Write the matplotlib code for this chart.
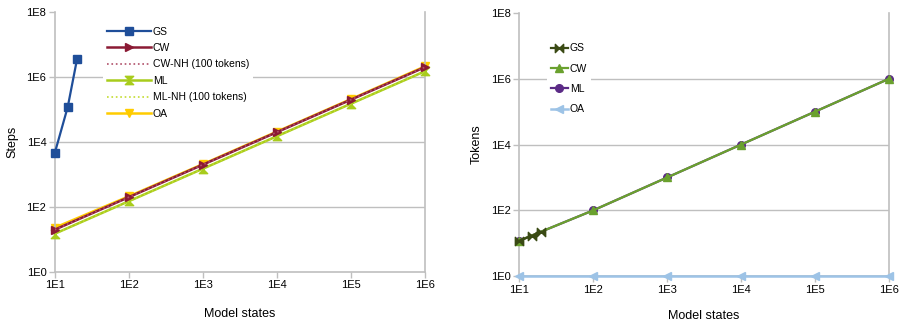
import matplotlib.pyplot as plt
from matplotlib.path import Path
import numpy as np

plt.rcParams['font.family'] = ['Liberation Sans', 'DejaVu Sans']

# left chart: steps
states = [10, 100, 1000, 10000, 100000, 1000000]
gs_states = [10, 15, 20]
gs_steps = [4500, 120000, 3500000]
cw_steps = [20, 200, 2000, 20000, 200000, 2000000]
cw_nh_steps = [20, 200, 2000, 20000, 200000, 2000000]
ml_steps = [15, 150, 1500, 15000, 150000, 1500000]
ml_nh_steps = [15, 150, 1500, 15000, 150000, 1500000]
oa_steps = [23, 212, 2080, 20800, 208000, 2120000]

# right chart: tokens
gs_tokens = [12, 17, 22]
cw_tokens = [12, 100, 1000, 10000, 100000, 1000000]
ml_tokens = [12, 100, 1000, 10000, 100000, 1000000]
oa_tokens = [1, 1, 1, 1, 1, 1]

x_ticks = [1e1, 1e2, 1e3, 1e4, 1e5, 1e6]
x_labels = ['1E1', '1E2', '1E3', '1E4', '1E5', '1E6']
y_ticks = [1e0, 1e2, 1e4, 1e6, 1e8]
y_labels = ['1E0', '1E2', '1E4', '1E6', '1E8']

# bowtie / hourglass markers
bowtie = Path([(-1, 1), (-1, -1), (1, 1), (1, -1), (-1, 1)],
              [Path.MOVETO, Path.LINETO, Path.LINETO, Path.LINETO, Path.CLOSEPOLY])
hourglass = Path([(-1, 1), (1, 1), (-1, -1), (1, -1), (-1, 1)],
                 [Path.MOVETO, Path.LINETO, Path.LINETO, Path.LINETO, Path.CLOSEPOLY])

grey = '#BFBFBF'


def style(ax, ylabel, xpad):
    ax.set_xscale('log')
    ax.set_yscale('log')
    ax.set_xlim(1e1, 1e6)
    ax.set_ylim(1e0, 1e8)
    ax.set_xticks(x_ticks)
    ax.set_xticklabels(x_labels)
    ax.set_yticks(y_ticks)
    ax.set_yticklabels(y_labels)
    ax.minorticks_off()
    ax.tick_params(labelsize=8, color=grey, length=4, width=1, pad=2)
    ax.spines['top'].set_visible(False)
    for s in ['left', 'bottom', 'right']:
        ax.spines[s].set_color(grey)
        ax.spines[s].set_linewidth(1.2)
    ax.grid(axis='y', color=grey, linewidth=1)
    ax.get_ygridlines()[0].set_visible(False)
    ax.get_ygridlines()[-1].set_visible(False)
    ax.set_axisbelow(True)
    ax.set_xlabel('Model states', fontsize=9, labelpad=xpad)
    ax.set_ylabel(ylabel, fontsize=9, labelpad=6)


fig = plt.figure(figsize=(9, 3.23), dpi=100)
ax1 = fig.add_axes([0.0608, 0.158, 0.4114, 0.805])
ax2 = fig.add_axes([0.5767, 0.1446, 0.4114, 0.816])

ax1.plot(gs_states, gs_steps, color='#1F4E99', lw=1.6, marker='s', ms=5.5,
         label='GS', zorder=5, clip_on=False)
ax1.plot(states, cw_steps, color='#8B1A34', lw=1.8, marker='>', ms=6,
         label='CW', zorder=4, clip_on=False)
ax1.plot(states, cw_nh_steps, color='#B0506A', lw=1.2, ls=':',
         label='CW-NH (100 tokens)', zorder=4)
ax1.plot(states, ml_steps, color='#A8CC1C', lw=1.8, marker=hourglass, ms=6,
         label='ML', zorder=3, clip_on=False)
ax1.plot(states, ml_nh_steps, color='#C4DC30', lw=1.2, ls=':',
         label='ML-NH (100 tokens)', zorder=3)
ax1.plot(states, oa_steps, color='#FFCC00', lw=1.8, marker='v', ms=6,
         label='OA', zorder=2, clip_on=False)
style(ax1, 'Steps', 13)
ax1.legend(loc='upper left', bbox_to_anchor=(0.13, 0.96), fontsize=7.5,
           handlelength=4.2, handletextpad=0.2, labelspacing=0.62,
           frameon=True, facecolor='white', edgecolor='none', framealpha=1,
           borderaxespad=0, fancybox=False)

ax2.plot(states, ml_tokens, color='#5B2A86', lw=1.6, marker='o', ms=5.5,
         label='ML', zorder=3, clip_on=False)
ax2.plot(states, cw_tokens, color='#6AA12E', lw=1.6, marker='^', ms=5.5,
         label='CW', zorder=4, clip_on=False)
ax2.plot(gs_states, gs_tokens, color='#3A4A14', lw=1.6, marker=bowtie, ms=6,
         label='GS', zorder=5, clip_on=False)
ax2.plot(states, oa_tokens, color='#9DC3E6', lw=1.8, marker='<', ms=5.5,
         label='OA', zorder=4, clip_on=False)
style(ax2, 'Tokens', 11)
h, l = ax2.get_legend_handles_labels()
order = [l.index(n) for n in ['GS', 'CW', 'ML', 'OA']]
ax2.legend([h[i] for i in order], [l[i] for i in order], loc='upper left',
           bbox_to_anchor=(0.075, 0.9), fontsize=7.5, handlelength=1.6,
           handletextpad=0.2, labelspacing=1.0, frameon=True, facecolor='white',
           edgecolor='none', framealpha=1, borderaxespad=0, fancybox=False)

fig.savefig('out.png', dpi=100)
